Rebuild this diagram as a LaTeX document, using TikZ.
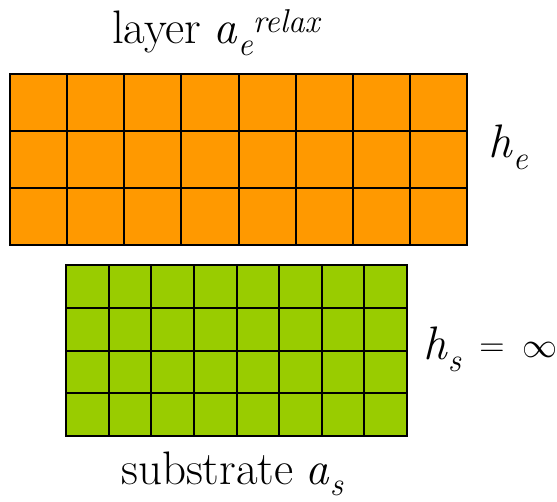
\RequirePackage{fix-cm}
\documentclass[tikz,border=0pt]{standalone}
\usepackage{fontspec}
\definecolor{layerorange}{HTML}{FF9900}
\definecolor{subgreen}{HTML}{99CC00}
\newcommand{\bigsz}{\fontsize{47}{52}\selectfont}
\newcommand{\smsz}{\fontsize{33}{38}\selectfont}
\newcommand{\mathsz}{\fontsize{35}{40}\selectfont}
\begin{document}
\begin{tikzpicture}[x=1pt,y=-1pt,
  gridline/.style={line width=2pt,black},
  label/.style={inner sep=0pt,anchor=base west,font=\bigsz}]
\useasboundingbox (0,0) rectangle (557,501);
\fill[white] (0,0) rectangle (557,501);
% layer grid
\fill[layerorange] (10,74) rectangle (467,245);
\foreach \i in {0,...,8} \draw[gridline] ({10+\i*57.125},74) -- ({10+\i*57.125},245);
\foreach \j in {0,...,3} \draw[gridline] (9,{74+\j*57}) -- (468,{74+\j*57});
% substrate grid
\fill[subgreen] (66,265) rectangle (407,436);
\foreach \i in {0,...,8} \draw[gridline] ({66+\i*42.625},265) -- ({66+\i*42.625},436);
\foreach \j in {0,...,4} \draw[gridline] (65,{265+\j*42.75}) -- (408,{265+\j*42.75});
% labels
\node[label] (lt) at (112,43) {layer\hspace{-2pt} \textit{a}\raisebox{-12pt}{\smsz\textit{e}}\raisebox{11pt}{\smsz\textit{relax}}};
\node[label] (he) at (488,157) {\textit{h}\raisebox{-12pt}{\smsz\textit{e}}};
\node[label] (hs) at (423,359) {\textit{h}\raisebox{-12pt}{\smsz\textit{s}}\hspace{18pt}\raisebox{3pt}{\mathsz$=$}\hspace{18pt}\raisebox{2pt}{\mathsz$\infty$}};
\node[label] (st) at (121,484) {substrate\hspace{-2pt} \textit{a}\raisebox{-11pt}{\smsz\textit{s}}};
\end{tikzpicture}
\end{document}
